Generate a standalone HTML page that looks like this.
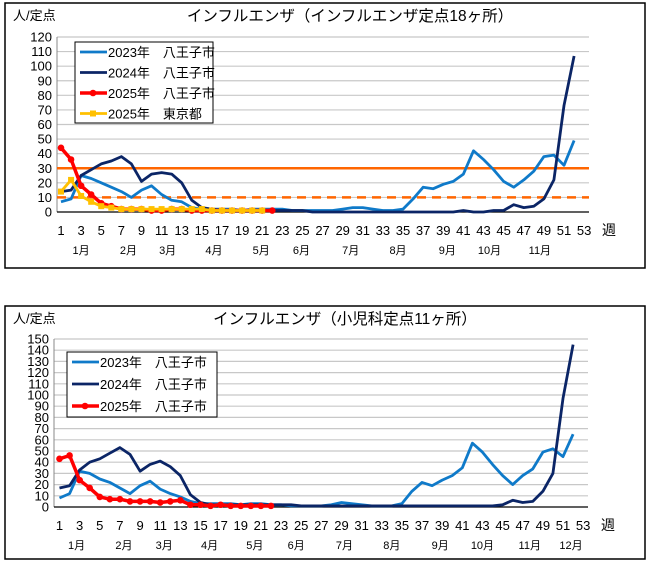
<!DOCTYPE html>
<html><head><meta charset="utf-8">
<style>
body{margin:0;background:#fff;font-family:"Liberation Sans","Noto Sans CJK JP",sans-serif;}
svg{display:block}
text{font-family:"Liberation Sans","Noto Sans CJK JP",sans-serif;fill:#000}
</style></head>
<body>
<svg id="svg" width="652" height="562" viewBox="0 0 652 562">
<rect x="0" y="0" width="652" height="562" fill="#fff"/>
</svg>
<script>
const weeks = Array.from({length:53},(_,i)=>i+1);
const tickWeeks = [1,3,5,7,9,11,13,15,17,19,21,23,25,27,29,31,33,35,37,39,41,43,45,47,49,51,53];
const c1_2023 = [7,9,25,23,20,17,14,10,15,18,12,8,7,3,2,2,2,2,1,2,2,2,2,1,1,1,1,1,2,3,3,2,1,1,2,9,17,16,19,21,26,42,36,29,21,17,22,28,38,39,32,49];
const c1_2024 = [14,15,25,29,33,35,38,33,21,26,27,26,20,8,3,2,1,1,1,1,1,1,1,1,1,0,0,0,0,0,0,0,0,0,0,0,0,0,0,0,1,0,0,1,1,5,3,4,9,22,73,107];
const c1_2025 = [44,36,18,12,6,4,2,2,2,1,1,2,2,1,1,1,1,1,1,1,1,1];
const c1_tokyo = [14,22,11,7,4,3,2,2,2,2,2,2,2,2,2,1,1,1,1,1,1];
const c1_ticks = [0,10,20,30,40,50,60,70,80,90,100,110,120];
const c1_thresholds = [30,10];
const c1_months = [["1月",3],["2月",7.7],["3月",11.6],["4月",16.2],["5月",20.9],["6月",24.9],["7月",29.8],["8月",34.5],["9月",39.4],["10月",43.6],["11月",48.6]];
const c2_2023 = [8,12,32,30,25,22,17,12,19,23,16,12,9,5,3,3,3,3,2,3,3,2,2,1,1,1,1,2,4,3,2,1,1,1,3,14,22,19,24,28,35,57,49,38,28,20,28,34,49,52,45,65];
const c2_2024 = [17,19,33,40,43,48,53,47,32,38,41,36,28,11,4,2,2,2,2,2,2,2,2,2,1,1,1,1,1,1,1,1,1,1,1,1,1,1,1,1,1,1,1,1,2,6,4,5,14,30,97,145];
const c2_2025 = [43,46,24,17,9,7,7,5,5,5,4,5,6,2,2,1,2,1,1,1,1,1];
const c2_ticks = [0,10,20,30,40,50,60,70,80,90,100,110,120,130,140,150];
const c2_months = [["1月",2.7],["2月",7.4],["3月",11.4],["4月",15.9],["5月",20.4],["6月",24.5],["7月",29.3],["8月",34],["9月",38.8],["10月",43],["11月",47.7],["12月",51.8]];

const NS="http://www.w3.org/2000/svg";
const svg=document.getElementById('svg');
function mk(tag,attrs,parent,txt){const e=document.createElementNS(NS,tag);for(const k in attrs)e.setAttribute(k,attrs[k]);if(txt!==undefined)e.textContent=txt;(parent||svg).appendChild(e);return e;}

function chart(cfg){
  const g=mk('g',{});
  
  
  const fr=mk('rect',{x:cfg.fx,y:cfg.fy,width:cfg.fw,height:cfg.fh,fill:'#fff',stroke:'#000','stroke-width':1.5},g);
  
  const X=w=>cfg.w1+(w-1)*cfg.step;
  const Y=v=>cfg.y0-(v-cfg.ymin)/(cfg.ymax-cfg.ymin)*(cfg.y0-cfg.ytop);
  cfg.ticks.forEach(t=>{
    if(t>0){const l=mk('line',{x1:cfg.px0,x2:cfg.px1,y1:Y(t),y2:Y(t),stroke:'#c8c8c8','stroke-width':1.2},g);
      }
    const tx=mk('text',{x:cfg.px0-5,y:Y(t)+4.5,'text-anchor':'end','font-size':13},g,String(t));
    
  });
  const ax=mk('line',{x1:cfg.px0,x2:cfg.px0,y1:cfg.ytop,y2:cfg.y0,stroke:'#888','stroke-width':1},g);
  
  const bx=mk('line',{x1:cfg.px0,x2:cfg.px1,y1:cfg.y0,y2:cfg.y0,stroke:'#000','stroke-width':1.2},g);
  
  tickWeeks.forEach(w=>{const t=mk('text',{x:X(w),y:cfg.y0+23,'text-anchor':'middle','font-size':13},g,String(w));
    });
  cfg.months.forEach(m=>{const t=mk('text',{x:X(m[1]),y:cfg.y0+42,'text-anchor':'middle','font-size':11},g,m[0]);
    });
  const wk=mk('text',{x:cfg.px1+20,y:cfg.y0+23,'text-anchor':'middle','font-size':14},g,'週');
  
  const yt=mk('text',{x:cfg.fx+8,y:cfg.fy+17,'font-size':13},g,'人/定点');
  
  const ti=mk('text',{x:cfg.titleX,y:cfg.fy+18,'text-anchor':'middle','font-size':15.5},g,cfg.title);
  
  (cfg.thresholds||[]).forEach((t,i)=>{const l=mk('line',{x1:cfg.px0,x2:cfg.px1,y1:Y(t),y2:Y(t),stroke:'#ff6600','stroke-width':2.5},g);
    if(i===1)l.setAttribute('stroke-dasharray','9,6');
    });
  cfg.series.forEach(s=>{
    const pts=s.data.map((v,i)=>X(i+1).toFixed(1)+','+Y(v).toFixed(1)).join(' ');
    const pl=mk('polyline',{points:pts,fill:'none',stroke:s.color,'stroke-width':s.w,'stroke-linejoin':'round'},g);
    
    if(s.marker){s.data.forEach((v,i)=>{let m;
      if(s.marker==='circle')m=mk('circle',{cx:X(i+1),cy:Y(v),r:3.3,fill:s.color},g);
      else m=mk('rect',{x:X(i+1)-3,y:Y(v)-3,width:6,height:6,fill:s.color},g);
      });}
  });
  const L=cfg.legend;
  const lb=mk('rect',{x:L.x,y:L.y,width:L.w,height:L.h,fill:'#fff',stroke:'#000','stroke-width':1},g);
  
  cfg.series.forEach((s,i)=>{const yy=L.y+L.first+i*L.gap;
    const ln=mk('line',{x1:L.x+5,x2:L.x+32,y1:yy,y2:yy,stroke:s.color,'stroke-width':s.w},g);
    
    if(s.marker==='circle')mk('circle',{cx:L.x+18,cy:yy,r:3.3,fill:s.color},g);
    if(s.marker==='square')mk('rect',{x:L.x+15,y:yy-3,width:6,height:6,fill:s.color},g);
    const t=mk('text',{x:L.x+33,y:yy+5,'font-size':13},g,s.label);
    });
}

chart({name:'chart-18-sites',fx:5,fy:3,fw:640,fh:265,px0:57,px1:589,w1:61,step:10.06,y0:212,ytop:37,ymin:0,ymax:120,
  ticks:c1_ticks,months:c1_months,titleX:350,title:'インフルエンザ（インフルエンザ定点18ヶ所）',thresholds:c1_thresholds,
  legend:{x:75,y:42,w:138,h:81,first:10,gap:20.5},
  series:[{key:'2023',label:'2023年　八王子市',data:c1_2023,color:'#0f7ac9',w:2.8},
          {key:'2024',label:'2024年　八王子市',data:c1_2024,color:'#0b2566',w:2.8},
          {key:'2025',label:'2025年　八王子市',data:c1_2025,color:'#ff0000',w:3.5,marker:'circle'},
          {key:'tokyo-2025',label:'2025年　東京都',data:c1_tokyo,color:'#ffc000',w:2.8,marker:'square'}]});

chart({name:'chart-11-pediatric-sites',fx:5,fy:306,fw:640,fh:253,px0:54,px1:588,w1:59.5,step:10.07,y0:507,ytop:339,ymin:0,ymax:150,
  ticks:c2_ticks,months:c2_months,titleX:345,title:'インフルエンザ（小児科定点11ヶ所）',
  legend:{x:67,y:352,w:150,h:65,first:10,gap:22},
  series:[{key:'2023',label:'2023年　八王子市',data:c2_2023,color:'#0f7ac9',w:2.8},
          {key:'2024',label:'2024年　八王子市',data:c2_2024,color:'#0b2566',w:2.8},
          {key:'2025',label:'2025年　八王子市',data:c2_2025,color:'#ff0000',w:3.5,marker:'circle'}]});
</script>
</body></html>
